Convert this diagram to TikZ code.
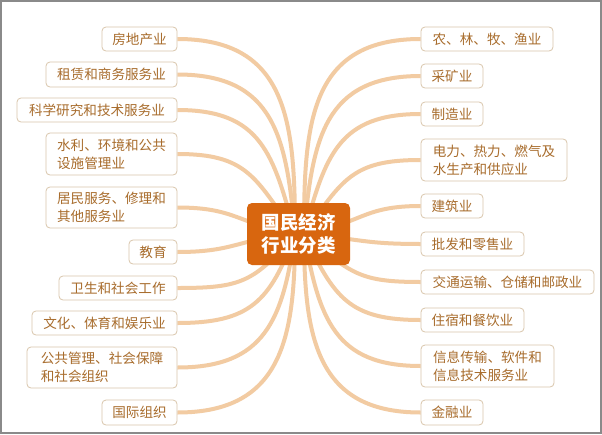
\documentclass[tikz,border=0pt]{standalone}
\usepackage{fontspec}
\setmainfont{Noto Sans CJK SC}
\usetikzlibrary{backgrounds}
\definecolor{linec}{HTML}{F2CBA2}
\definecolor{boxb}{HTML}{D9C6AC}
\definecolor{txtc}{HTML}{A86C2C}
\definecolor{ctr}{HTML}{D8660F}
\definecolor{framec}{HTML}{8A8A8A}
\tikzset{
  leaf/.style={draw=boxb, line width=0.8pt, fill=white, rounded corners=4pt, text=txtc,
    font=\fontsize{13.6}{18}\selectfont, align=left, inner sep=0pt},
  hub/.style={fill=ctr, rounded corners=5pt, text=white,
    font=\fontsize{18.5}{23}\selectfont\bfseries, align=center, inner sep=0pt,
    minimum width=103pt, minimum height=62pt},
  conn/.style={draw=linec, line width=4pt, looseness=1.25}
}
\begin{document}
\begin{tikzpicture}[x=1pt,y=-1pt]
\useasboundingbox (0,0) rectangle (602,434);

\node[hub] (C) at (298.5,234) {国民经济\\行业分类};
\coordinate (cL) at (295,234);
\coordinate (cR) at (304,234);

% left
\node[leaf, minimum width=75pt, minimum height=24pt] (L1) at (139.5,39) {房地产业};
\node[leaf, minimum width=131pt, minimum height=25pt] (L2) at (111.5,74.5) {租赁和商务服务业};
\node[leaf, minimum width=160pt, minimum height=24pt] (L3) at (97,110) {科学研究和技术服务业};
\node[leaf, minimum width=131pt, minimum height=42pt] (L4) at (111.5,154) {水利、环境和公共\\设施管理业};
\node[leaf, minimum width=131pt, minimum height=41pt] (L5) at (111.5,207.5) {居民服务、修理和\\其他服务业};
\node[leaf, minimum width=48pt, minimum height=24pt] (L6) at (153,252) {教育};
\node[leaf, minimum width=118pt, minimum height=24pt] (L7) at (118,288) {卫生和社会工作};
\node[leaf, minimum width=145pt, minimum height=24pt] (L8) at (104.5,323) {文化、体育和娱乐业};
\node[leaf, minimum width=150pt, minimum height=41pt] (L9) at (102,367.5) {公共管理、社会保障\\和社会组织};
\node[leaf, minimum width=75pt, minimum height=25pt] (L10) at (139.5,412.5) {国际组织};

% right
\node[leaf, minimum width=132pt, minimum height=24pt] (R1) at (487,39) {农、林、牧、渔业};
\node[leaf, minimum width=62pt, minimum height=24pt] (R2) at (452,76) {采矿业};
\node[leaf, minimum width=62pt, minimum height=24pt] (R3) at (452,114) {制造业};
\node[leaf, minimum width=146pt, minimum height=42pt] (R4) at (494,160) {电力、热力、燃气及\\水生产和供应业};
\node[leaf, minimum width=62pt, minimum height=24pt] (R5) at (452,206) {建筑业};
\node[leaf, minimum width=103pt, minimum height=24pt] (R6) at (472.5,244) {批发和零售业};
\node[leaf, minimum width=173pt, minimum height=24pt] (R7) at (507.5,282) {交通运输、仓储和邮政业};
\node[leaf, minimum width=103pt, minimum height=24pt] (R8) at (472.5,320) {住宿和餐饮业};
\node[leaf, minimum width=133pt, minimum height=42pt] (R9) at (487.5,366) {信息传输、软件和\\信息技术服务业};
\node[leaf, minimum width=62pt, minimum height=25pt] (R10) at (452,412.5) {金融业};

\begin{scope}[on background layer]
\fill[white] (0,0) rectangle (602,434);
\draw[framec, line width=2pt] (1,1) rectangle (601,433);
\draw[conn] (L1.east) to[out=0,in=90] (cL);
\draw[conn] (L2.east) to[out=0,in=95] (cL);
\draw[conn] (L3.east) to[out=0,in=105] (cL);
\draw[conn] (L4.east) to[out=0,in=125] (cL);
\draw[conn] (L5.east) to[out=0,in=170] (cL);
\draw[conn] (L6.east) to[out=0,in=185] (cL);
\draw[conn] (L7.east) to[out=0,in=230] (cL);
\draw[conn] (L8.east) to[out=0,in=250] (cL);
\draw[conn] (L9.east) to[out=0,in=262] (cL);
\draw[conn] (L10.east) to[out=0,in=270] (cL);
\draw[conn] (R1.west) to[out=180,in=90] (cR);
\draw[conn] (R2.west) to[out=180,in=85] (cR);
\draw[conn] (R3.west) to[out=180,in=75] (cR);
\draw[conn] (R4.west) to[out=180,in=55] (cR);
\draw[conn] (R5.west) to[out=180,in=10] (cR);
\draw[conn] (R6.west) to[out=180,in=-5] (cR);
\draw[conn] (R7.west) to[out=180,in=-40] (cR);
\draw[conn] (R8.west) to[out=180,in=-65] (cR);
\draw[conn] (R9.west) to[out=180,in=-80] (cR);
\draw[conn] (R10.west) to[out=180,in=-90] (cR);
\end{scope}
\end{tikzpicture}
\end{document}
